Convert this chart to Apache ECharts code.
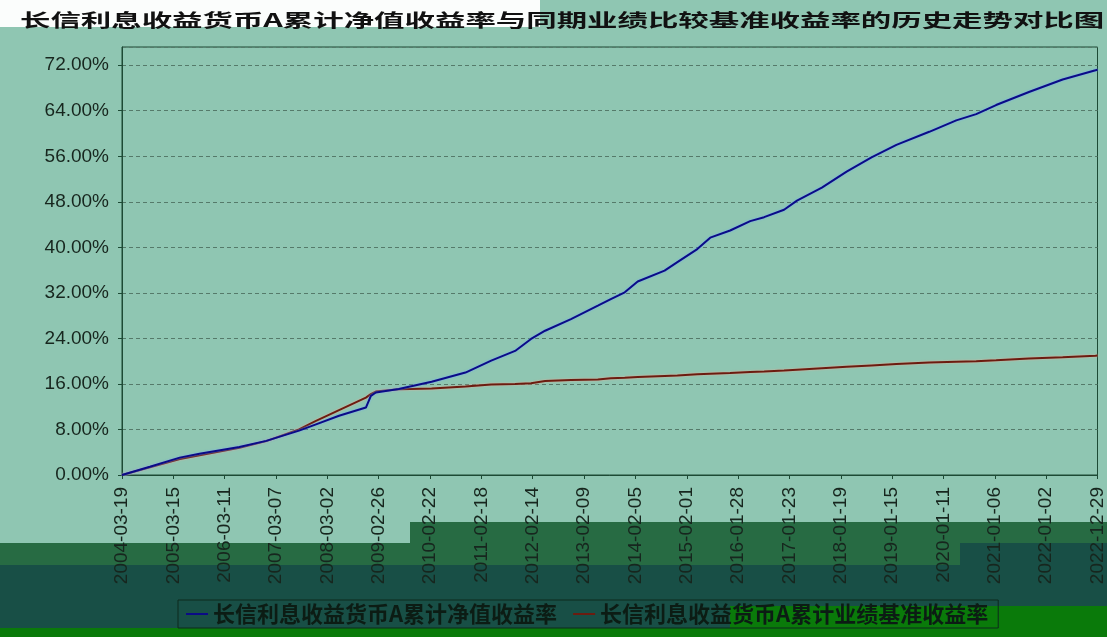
<!DOCTYPE html>
<html>
<head>
<meta charset="utf-8">
<script src="https://cdn.jsdelivr.net/npm/echarts@6/dist/echarts.min.js"></script>
<style>
html,body{margin:0;padding:0;background:#8fc6b2;}
#c{width:1107px;height:637px;}
</style>
</head>
<body>
<div id="c"></div>
<script>
// ---- data ----
const chartTitle = '长信利息收益货币A累计净值收益率与同期业绩比较基准收益率的历史走势对比图';
const seriesNames = ['长信利息收益货币A累计净值收益率', '长信利息收益货币A累计业绩基准收益率'];
const tickLabels = [
  '2004-03-19','2005-03-15','2006-03-11','2007-03-07','2008-03-02','2009-02-26',
  '2010-02-22','2011-02-18','2012-02-14','2013-02-09','2014-02-05','2015-02-01',
  '2016-01-28','2017-01-23','2018-01-19','2019-01-15','2020-01-11','2021-01-06',
  '2022-01-02','2022-12-29'
];
const dates = [
  '2004-03-19','2004-10-01','2005-04-29','2005-09-15','2006-06-22','2006-12-28',
  '2007-08-16','2007-12-13','2008-05-23','2008-11-28','2009-01-02','2009-02-06',
  '2009-07-17','2010-03-05','2010-10-29','2011-04-28','2011-10-13','2012-02-02',
  '2012-05-11','2012-11-09','2013-05-17','2013-08-16','2013-11-22','2014-02-21',
  '2014-08-29','2014-11-27','2015-04-16','2015-07-16','2015-12-03','2016-04-22',
  '2016-07-29','2016-12-16','2017-03-17','2017-09-08','2018-03-01','2018-08-23',
  '2019-02-14','2019-10-03','2020-04-10','2020-08-28','2021-01-15','2021-09-03',
  '2022-04-28','2022-12-15','2022-12-29'
];
const fundReturn = [
  0, 1.45, 3.05, 3.75, 4.93, 6.0,
  7.8, 8.9, 10.4, 11.85, 13.9, 14.5,
  15.1, 16.4, 18.0, 20.1, 21.8, 23.9,
  25.35, 27.4, 29.75, 30.9, 32.1, 34.0,
  35.9, 37.4, 39.7, 41.7, 42.96, 44.6,
  45.3, 46.6, 48.2, 50.5, 53.3, 55.8,
  58.0, 60.3, 62.3, 63.4, 65.0, 67.3,
  69.5, 71.1, 71.2
];
const benchReturn = [
  0, 1.35, 2.8, 3.45, 4.8, 5.95,
  8.0, 9.5, 11.4, 13.6, 14.2, 14.67,
  15.05, 15.2, 15.55, 15.9, 16.0, 16.14,
  16.5, 16.67, 16.8, 17.0, 17.1, 17.2,
  17.4, 17.5, 17.7, 17.8, 17.9, 18.1,
  18.2, 18.35, 18.5, 18.75, 19.0, 19.25,
  19.5, 19.75, 19.9, 20.0, 20.15, 20.45,
  20.7, 20.95, 21.0
];
const yMax = 75.2;
const yStep = 8;

// ---- build ----
const DAY = 86400000;
const t0 = Date.parse(tickLabels[0]);
const toDay = d => Math.round((Date.parse(d) - t0) / DAY);
const tickStep = toDay(tickLabels[1]);
const xMax = toDay(tickLabels[tickLabels.length - 1]);
const fundData = dates.map((d, i) => [toDay(d), fundReturn[i]]);
const benchData = dates.map((d, i) => [toDay(d), benchReturn[i]]);

const axisColor = '#1d4a35';
const txtColor = '#17261e';
const W = 1107, H = 637;

const chart = echarts.init(document.getElementById('c'), null, {renderer: 'canvas'});
chart.setOption({
  backgroundColor: '#8fc6b2',
  animation: false,
  graphic: {
    elements: [
      {type: 'rect', z: -10, shape: {x: 0, y: 0, width: 540, height: 27}, style: {fill: '#fbfdfc'}},
      {type: 'rect', z: -10, shape: {x: 410, y: 522, width: W - 410, height: 21}, style: {fill: '#276b43'}},
      {type: 'rect', z: -10, shape: {x: 0, y: 543, width: 960, height: 22}, style: {fill: '#276b43'}},
      {type: 'rect', z: -10, shape: {x: 960, y: 543, width: W - 960, height: 22}, style: {fill: '#184f46'}},
      {type: 'rect', z: -10, shape: {x: 0, y: 565, width: W, height: 41}, style: {fill: '#184f46'}},
      {type: 'rect', z: -10, shape: {x: 0, y: 606, width: 730, height: 22}, style: {fill: '#184f46'}},
      {type: 'rect', z: -10, shape: {x: 730, y: 606, width: W - 730, height: 22}, style: {fill: '#0a7a0a'}},
      {type: 'rect', z: -10, shape: {x: 0, y: 628, width: W, height: 9}, style: {fill: '#0a7a0a'}},
      {
        type: 'text', z: 20, x: 20, y: 20, scaleX: 1.69,
        style: {
          text: chartTitle,
          font: 'bold 18px "Noto Sans CJK SC"',
          fill: '#111111',
          verticalAlign: 'middle',
          textVerticalAlign: 'middle'
        }
      }
    ]
  },
  legend: {
    left: 178, top: 600,
    orient: 'horizontal',
    icon: 'rect',
    itemWidth: 22, itemHeight: 2,
    itemGap: 16,
    padding: [3, 10, 3, 8],
    borderColor: '#0d2a1c', borderWidth: 1,
    textStyle: {fontSize: 22, fontWeight: 'bold', fontFamily: '"Noto Sans CJK SC"', color: '#0c1c14'},
    data: seriesNames
  },
  grid: {
    left: 122, right: 5, top: 47, bottom: H - 475,
    show: true, borderColor: axisColor, borderWidth: 1, backgroundColor: 'transparent',
    containLabel: false
  },
  xAxis: {
    type: 'value',
    min: 0, max: xMax, interval: tickStep,
    offset: 5,
    axisLine: {show: true, lineStyle: {color: axisColor, width: 1}},
    axisTick: {show: true, length: 4, lineStyle: {color: axisColor}},
    splitLine: {show: false},
    axisLabel: {
      rotate: 90, margin: 7, fontSize: 19, color: txtColor,
      fontFamily: '"Liberation Sans", Arial, sans-serif',
      showMinLabel: true, showMaxLabel: true,
      formatter: v => tickLabels[Math.round(v / tickStep)] || ''
    }
  },
  yAxis: {
    type: 'value',
    min: 0, max: yMax, interval: yStep,
    offset: 5,
    axisLine: {show: true, lineStyle: {color: axisColor, width: 1}},
    axisTick: {show: true, length: 4, lineStyle: {color: axisColor}},
    splitLine: {show: true, lineStyle: {color: '#557a6a', type: [4, 3], width: 1}},
    axisLabel: {
      margin: 8, fontSize: 19, color: txtColor,
      fontFamily: '"Liberation Sans", Arial, sans-serif',
      showMaxLabel: false,
      formatter: v => (Math.abs(v % yStep) < 1e-9 ? v.toFixed(2) + '%' : '')
    }
  },
  series: [
    {
      name: seriesNames[0], type: 'line', data: fundData,
      showSymbol: false, symbol: 'none', z: 4,
      itemStyle: {color: '#0b0b86'},
      lineStyle: {color: '#0b0b86', width: 2, shadowColor: 'rgba(110,170,255,0.9)', shadowBlur: 2}
    },
    {
      name: seriesNames[1], type: 'line', data: benchData,
      showSymbol: false, symbol: 'none', z: 3,
      itemStyle: {color: '#6b1c10'},
      lineStyle: {color: '#6b1c10', width: 2, shadowColor: 'rgba(240,170,150,0.9)', shadowBlur: 2}
    }
  ]
});
</script>
</body>
</html>
